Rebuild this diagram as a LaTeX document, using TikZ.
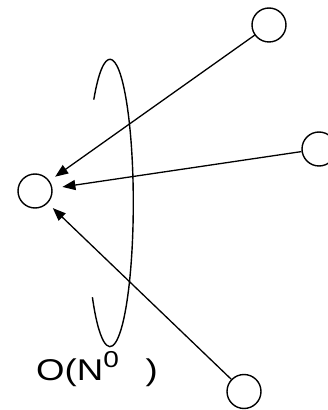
\documentclass[tikz,border=0pt]{standalone}
\usepackage{fontspec}
\setmainfont{Liberation Sans}
\usepackage{graphicx}
\usetikzlibrary{arrows.meta}
\tikzset{
    vertex/.style={circle, draw=black, line width=1.4pt, minimum size=34pt, inner sep=0pt},
    arrow/.style={-{Triangle[length=13pt, width=10pt]}, line width=1.3pt},
    orbit/.style={draw=black, line width=1.4pt},
}

\begin{document}
\begin{tikzpicture}[x=1pt, y=1pt]
    \useasboundingbox (0,0) rectangle (327,410);
    \node[vertex] (target) at (35,219) {};
    \node[vertex] (upper) at (269,385) {};
    \node[vertex] (side) at (319,261) {};
    \node[vertex] (lower) at (244,18.5) {};

    \draw[arrow, shorten >=7pt] (upper) -- (target);
    \draw[arrow, shorten >=10pt] (side) -- (target);
    \draw[arrow, shorten >=7pt] (lower) -- (target);

    \draw[orbit] (93.8,310.4) arc[start angle=134, end angle=-139, x radius=23.3, y radius=143.7];

    \node[anchor=base west, inner sep=0pt, font=\fontsize{30}{30}\selectfont] (cost) at (36,30) {\scalebox{1.22}[1]{O(N\raisebox{13pt}{\fontsize{23}{23}\selectfont 0}\hspace{0.45em} )}};
\end{tikzpicture}
\end{document}
